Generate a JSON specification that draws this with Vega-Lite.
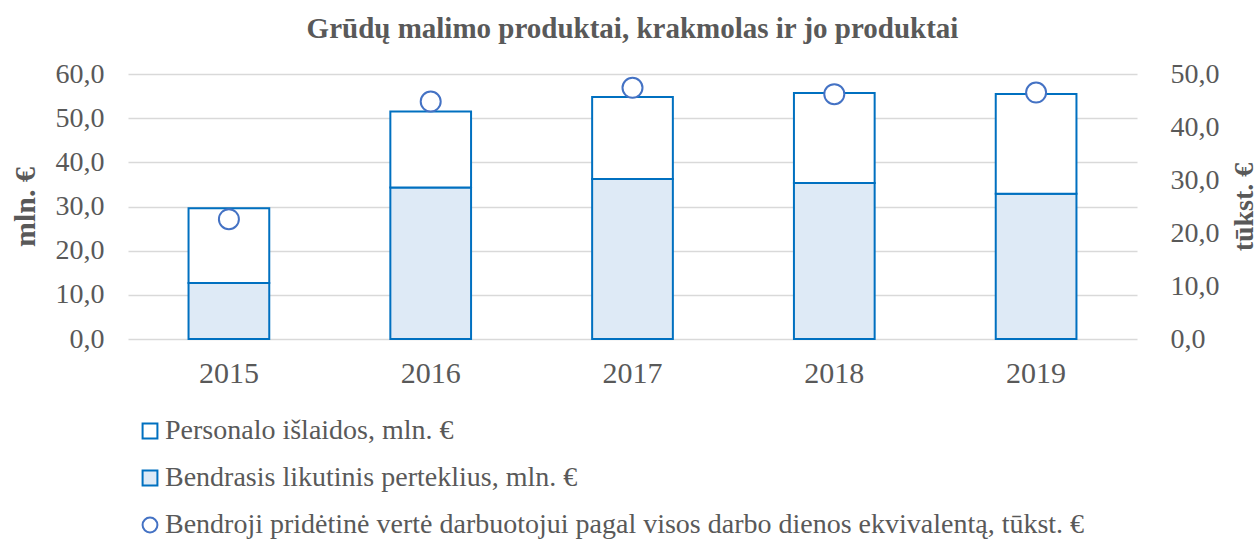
{
  "$schema": "https://vega.github.io/schema/vega-lite/v6.json",
  "autosize": "none",
  "width": 1009,
  "height": 265,
  "padding": {"left": 128, "top": 74, "right": 123, "bottom": 204},
  "background": "white",
  "config": {
    "view": {"stroke": null},
    "font": "Liberation Serif",
    "axis": {"labelFont": "Liberation Serif", "titleFont": "Liberation Serif", "labelColor": "#595959", "titleColor": "#595959"},
    "legend": {"labelFont": "Liberation Serif", "labelColor": "#595959"}
  },
  "title": {
    "text": "Grūdų malimo produktai, krakmolas ir jo produktai",
    "font": "Liberation Serif",
    "fontSize": 29,
    "fontWeight": "bold",
    "color": "#595959",
    "anchor": "middle",
    "offset": 16
  },
  "datasets": {
    "bars": [
      {"year": "2015", "series": "Bendrasis likutinis perteklius, mln. €", "value": 12.7},
      {"year": "2015", "series": "Personalo išlaidos, mln. €", "value": 16.9},
      {"year": "2016", "series": "Bendrasis likutinis perteklius, mln. €", "value": 34.3},
      {"year": "2016", "series": "Personalo išlaidos, mln. €", "value": 17.2},
      {"year": "2017", "series": "Bendrasis likutinis perteklius, mln. €", "value": 36.2},
      {"year": "2017", "series": "Personalo išlaidos, mln. €", "value": 18.6},
      {"year": "2018", "series": "Bendrasis likutinis perteklius, mln. €", "value": 35.3},
      {"year": "2018", "series": "Personalo išlaidos, mln. €", "value": 20.4},
      {"year": "2019", "series": "Bendrasis likutinis perteklius, mln. €", "value": 32.9},
      {"year": "2019", "series": "Personalo išlaidos, mln. €", "value": 22.6}
    ],
    "points": [
      {"year": "2015", "series": "Bendroji pridėtinė vertė darbuotojui pagal visos darbo dienos ekvivalentą, tūkst. €", "value": 22.6},
      {"year": "2016", "series": "Bendroji pridėtinė vertė darbuotojui pagal visos darbo dienos ekvivalentą, tūkst. €", "value": 44.8},
      {"year": "2017", "series": "Bendroji pridėtinė vertė darbuotojui pagal visos darbo dienos ekvivalentą, tūkst. €", "value": 47.4},
      {"year": "2018", "series": "Bendroji pridėtinė vertė darbuotojui pagal visos darbo dienos ekvivalentą, tūkst. €", "value": 46.2},
      {"year": "2019", "series": "Bendroji pridėtinė vertė darbuotojui pagal visos darbo dienos ekvivalentą, tūkst. €", "value": 46.5}
    ]
  },
  "encoding": {
    "x": {
      "field": "year",
      "type": "nominal",
      "scale": {"paddingInner": 0.6, "paddingOuter": 0.3},
      "axis": {"title": null, "labelAngle": 0, "labelFontSize": 30, "labelPadding": 19, "domain": false, "ticks": false}
    }
  },
  "layer": [
    {
      "data": {"name": "bars"},
      "mark": {"type": "bar", "strokeWidth": 2},
      "encoding": {
        "y": {
          "field": "value",
          "type": "quantitative",
          "stack": "zero",
          "scale": {"domain": [0, 60]},
          "axis": {
            "title": "mln. €",
            "titleFontSize": 30,
            "titleFontWeight": "bold",
            "titlePadding": 15,
            "values": [0, 10, 20, 30, 40, 50, 60],
            "labelExpr": "replace(format(datum.value, '.1f'), '.', ',')",
            "labelFontSize": 28,
            "labelPadding": 24,
            "domain": false,
            "ticks": false,
            "grid": true,
            "gridColor": "#D9D9D9",
            "gridWidth": 1.5
          }
        },
        "order": {"field": "series", "sort": "ascending"},
        "fill": {
          "field": "series",
          "type": "nominal",
          "scale": {
            "domain": ["Personalo išlaidos, mln. €", "Bendrasis likutinis perteklius, mln. €", "Bendroji pridėtinė vertė darbuotojui pagal visos darbo dienos ekvivalentą, tūkst. €"],
            "range": ["#FFFFFF", "#DEEAF6", "#FFFFFF"]
          },
          "legend": {
            "title": null,
            "orient": "none",
            "legendX": 8,
            "legendY": 343,
            "direction": "vertical",
            "labelFontSize": 28,
            "labelLimit": 1200,
            "rowPadding": 19,
            "symbolSize": 220,
            "symbolStrokeWidth": 2,
            "labelOffset": 1
          }
        },
        "stroke": {
          "field": "series",
          "type": "nominal",
          "scale": {
            "domain": ["Personalo išlaidos, mln. €", "Bendrasis likutinis perteklius, mln. €", "Bendroji pridėtinė vertė darbuotojui pagal visos darbo dienos ekvivalentą, tūkst. €"],
            "range": ["#0070C0", "#0070C0", "#4472C4"]
          },
          "legend": null
        }
      }
    },
    {
      "data": {"name": "points"},
      "mark": {"type": "point", "filled": false, "size": 400, "strokeWidth": 2, "fill": "#FFFFFF", "fillOpacity": 1, "opacity": 1},
      "encoding": {
        "y": {
          "field": "value",
          "type": "quantitative",
          "scale": {"domain": [0, 50]},
          "axis": {
            "orient": "right",
            "title": "tūkst. €",
            "titleAngle": -90,
            "titleFontSize": 28,
            "titleFontWeight": "bold",
            "titlePadding": 39,
            "values": [0, 10, 20, 30, 40, 50],
            "labelExpr": "replace(format(datum.value, '.1f'), '.', ',')",
            "labelFontSize": 28,
            "labelPadding": 33,
            "domain": false,
            "ticks": false,
            "grid": false
          }
        },
        "shape": {
          "field": "series",
          "type": "nominal",
          "scale": {
            "domain": ["Personalo išlaidos, mln. €", "Bendrasis likutinis perteklius, mln. €", "Bendroji pridėtinė vertė darbuotojui pagal visos darbo dienos ekvivalentą, tūkst. €"],
            "range": ["square", "square", "circle"]
          },
          "legend": {
            "title": null,
            "orient": "none",
            "legendX": 8,
            "legendY": 343,
            "direction": "vertical",
            "labelFontSize": 28,
            "labelLimit": 1200,
            "rowPadding": 19,
            "symbolSize": 220,
            "symbolStrokeWidth": 2,
            "labelOffset": 1
          }
        },
        "stroke": {
          "field": "series",
          "type": "nominal"
        }
      }
    }
  ],
  "resolve": {"scale": {"y": "independent"}}
}
